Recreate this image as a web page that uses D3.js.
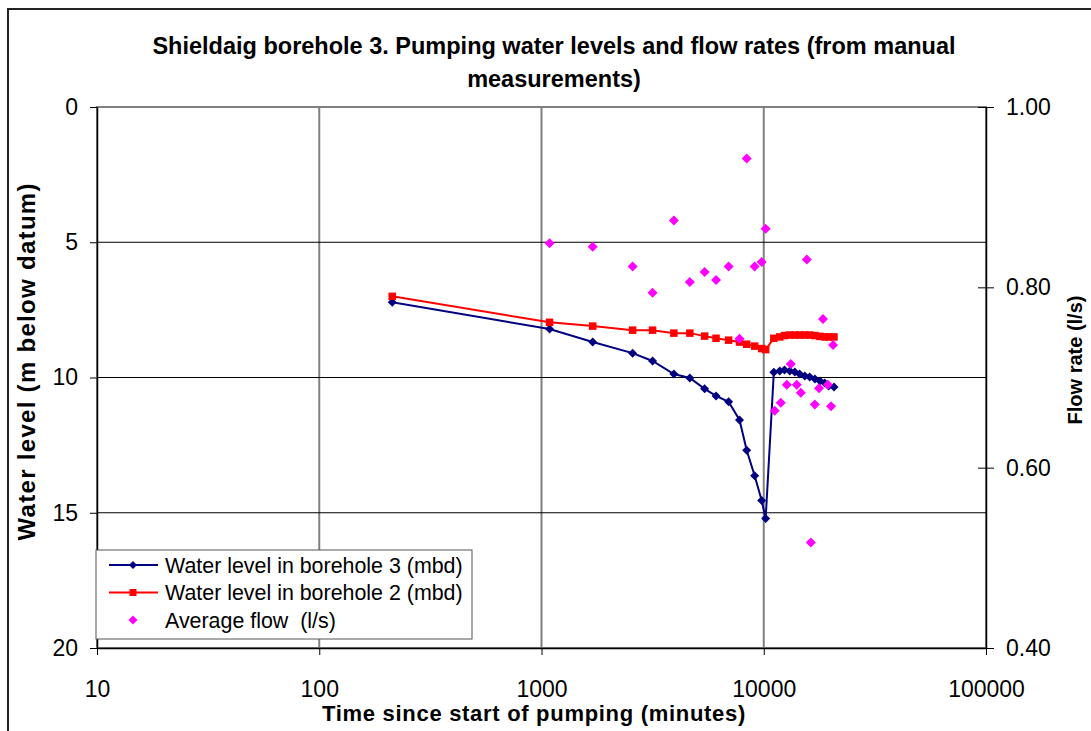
<!DOCTYPE html>
<html>
<head>
<meta charset="utf-8">
<script src="https://cdn.jsdelivr.net/npm/d3@7"></script>
<style>
  body { margin: 0; background: #ffffff; }
  svg text { font-family: 'Liberation Sans', Arial, sans-serif; fill: #000; }
</style>
</head>
<body>
<div id="chart-container"></div>
<script>
const chartWidth = 1091;
const chartHeight = 731;

const titleLines = [
  'Shieldaig borehole 3. Pumping water levels and flow rates (from manual',
  'measurements)'
];

// Time since start of pumping (minutes), shared by both water level series
const levelTimes = [213, 1087, 1700, 2570, 3160, 3940, 4650, 5420, 6100, 6950,
  7780, 8380, 9100, 9790, 10200, 11100, 11800, 12400, 13100, 13800, 14500,
  15300, 16100, 17000, 17900, 18800, 19600, 20700];

// Water level in borehole 3 (m below datum)
const bh3Levels = [7.22, 8.21, 8.69, 9.10, 9.39, 9.87, 10.02, 10.42, 10.68, 10.9,
  11.57, 12.69, 13.63, 14.55, 15.21, 9.81, 9.76, 9.72, 9.76, 9.8, 9.87,
  9.94, 9.98, 10.06, 10.13, 10.2, 10.31, 10.35];

// Water level in borehole 2 (m below datum)
const bh2Levels = [7.0, 7.96, 8.1, 8.25, 8.25, 8.36, 8.36, 8.47, 8.55, 8.62,
  8.69, 8.77, 8.84, 8.93, 8.97, 8.55, 8.5, 8.45, 8.43, 8.43, 8.43,
  8.43, 8.43, 8.45, 8.48, 8.5, 8.5, 8.5];

// Average flow (l/s)
const flowTimes = [1087, 1700, 2570, 3160, 3940, 4650, 5420, 6100, 6950, 7780,
  8380, 9100, 9790, 10200, 11210, 11930, 12690, 13230, 14080, 14680, 15620,
  16280, 16970, 17730, 18480, 19430, 20080, 20500];
const flowRates = [0.849, 0.845, 0.823, 0.794, 0.874, 0.806, 0.817, 0.808, 0.823, 0.743,
  0.943, 0.823, 0.828, 0.865, 0.663, 0.672, 0.692, 0.715, 0.692, 0.683, 0.831,
  0.517, 0.670, 0.688, 0.765, 0.692, 0.668, 0.736];

const xTicks = [10, 100, 1000, 10000, 100000];
const levelTicks = [0, 5, 10, 15, 20];
const flowTicks = [0.4, 0.6, 0.8, 1.0];

const legendLabels = [
  'Water level in borehole 3 (mbd)',
  'Water level in borehole 2 (mbd)',
  'Average flow  (l/s)'
];

const plot = { left: 97, right: 986, top: 107, bottom: 648 };

const drawChart = () => {
  const svg = d3
    .select('#chart-container')
    .append('svg')
    .attr('width', chartWidth)
    .attr('height', chartHeight);

  // Outer chart frame (runs off the picture at right and bottom)
  svg
    .append('rect')
    .attr('x', 8)
    .attr('y', 9)
    .attr('width', 1200)
    .attr('height', 900)
    .attr('fill', 'none')
    .attr('stroke', '#222')
    .attr('stroke-width', 2);

  // Title
  svg
    .selectAll('.title')
    .data(titleLines)
    .enter()
    .append('text')
    .attr('class', 'title')
    .attr('x', 554)
    .attr('y', (d, i) => 53.5 + i * 33)
    .attr('text-anchor', 'middle')
    .style('font-size', '23.5px')
    .style('font-weight', 'bold')
    .text((d) => d);

  // Scales
  const xScale = d3.scaleLog().domain([10, 100000]).range([plot.left, plot.right]);
  const yScale = d3.scaleLinear().domain([0, 20]).range([plot.top, plot.bottom]);
  const y2Scale = d3.scaleLinear().domain([0.4, 1.0]).range([plot.bottom, plot.top]);

  // Plot area border
  svg
    .append('rect')
    .attr('x', plot.left)
    .attr('y', plot.top)
    .attr('width', plot.right - plot.left)
    .attr('height', plot.bottom - plot.top)
    .attr('fill', 'none')
    .attr('stroke', '#808080')
    .attr('stroke-width', 2);

  // Gridlines
  svg
    .selectAll('.vgrid')
    .data(xTicks.slice(1, -1))
    .enter()
    .append('line')
    .attr('x1', (d) => xScale(d))
    .attr('x2', (d) => xScale(d))
    .attr('y1', plot.top)
    .attr('y2', plot.bottom)
    .attr('stroke', '#808080')
    .attr('stroke-width', 2);

  svg
    .selectAll('.hgrid')
    .data(levelTicks.slice(1, -1))
    .enter()
    .append('line')
    .attr('x1', plot.left)
    .attr('x2', plot.right)
    .attr('y1', (d) => yScale(d))
    .attr('y2', (d) => yScale(d))
    .attr('stroke', '#000')
    .attr('stroke-width', 1);

  // Axes
  const xAxis = d3
    .axisBottom(xScale)
    .tickValues(xTicks)
    .tickFormat(d3.format('d'))
    .tickSize(7)
    .tickSizeOuter(0)
    .tickPadding(26);
  const yAxis = d3
    .axisLeft(yScale)
    .tickValues(levelTicks)
    .tickSize(7)
    .tickSizeOuter(0)
    .tickPadding(12);
  const y2Axis = d3
    .axisRight(y2Scale)
    .tickValues(flowTicks)
    .tickFormat(d3.format('.2f'))
    .tickSize(8)
    .tickSizeOuter(0)
    .tickPadding(12);

  const gx = svg
    .append('g')
    .attr('id', 'x-axis')
    .attr('transform', `translate(0,${plot.bottom})`)
    .call(xAxis);
  const gy = svg
    .append('g')
    .attr('id', 'y-axis')
    .attr('transform', `translate(${plot.left},0)`)
    .call(yAxis);
  const gy2 = svg
    .append('g')
    .attr('id', 'y2-axis')
    .attr('transform', `translate(${plot.right},0)`)
    .call(y2Axis);
  // right axis ticks cross the axis line
  gy2.selectAll('.tick').append('line').attr('x1', -8).attr('x2', 0).attr('stroke', '#000');

  [gx, gy, gy2].forEach((g) => {
    g.selectAll('.domain').attr('stroke', '#000').attr('stroke-width', 1.5);
    g.selectAll('.tick line').attr('stroke', '#000');
    g.selectAll('.tick text')
      .style('font-size', '23px')
      .style('font-family', "'Liberation Sans', Arial, sans-serif");
  });

  // Axis titles
  svg
    .append('text')
    .attr('x', 534)
    .attr('y', 721)
    .attr('text-anchor', 'middle')
    .style('font-size', '22px')
    .style('font-weight', 'bold')
    .style('letter-spacing', '0.7px')
    .text('Time since start of pumping (minutes)');

  svg
    .append('text')
    .attr('transform', 'translate(35,362) rotate(-90)')
    .attr('text-anchor', 'middle')
    .attr('textLength', 357)
    .attr('lengthAdjust', 'spacing')
    .style('font-size', '24px')
    .style('font-weight', 'bold')
    .text('Water level (m below datum)');

  svg
    .append('text')
    .attr('transform', 'translate(1082,360) rotate(-90)')
    .attr('text-anchor', 'middle')
    .style('font-size', '20px')
    .style('font-weight', 'bold')
    .text('Flow rate (l/s)');

  // Series
  const bh3 = levelTimes.map((t, i) => [t, bh3Levels[i]]);
  const bh2 = levelTimes.map((t, i) => [t, bh2Levels[i]]);
  const flow = flowTimes.map((t, i) => [t, flowRates[i]]);

  const line = d3.line().x((d) => xScale(d[0])).y((d) => yScale(d[1]));
  const diamond = (s) => `M0,${-s}L${s},0L0,${s}L${-s},0Z`;

  svg
    .append('path')
    .datum(bh3)
    .attr('d', line)
    .attr('fill', 'none')
    .attr('stroke', '#000080')
    .attr('stroke-width', 2);

  svg
    .append('path')
    .datum(bh2)
    .attr('d', line)
    .attr('fill', 'none')
    .attr('stroke', '#ff0000')
    .attr('stroke-width', 2);

  svg
    .selectAll('.bh3-point')
    .data(bh3)
    .enter()
    .append('path')
    .attr('class', 'bh3-point')
    .attr('d', diamond(4.5))
    .attr('transform', (d) => `translate(${xScale(d[0])},${yScale(d[1])})`)
    .attr('fill', '#000080');

  svg
    .selectAll('.bh2-point')
    .data(bh2)
    .enter()
    .append('rect')
    .attr('class', 'bh2-point')
    .attr('x', (d) => xScale(d[0]) - 3.75)
    .attr('y', (d) => yScale(d[1]) - 3.75)
    .attr('width', 7.5)
    .attr('height', 7.5)
    .attr('fill', '#ff0000');

  svg
    .selectAll('.flow-point')
    .data(flow)
    .enter()
    .append('path')
    .attr('class', 'flow-point')
    .attr('d', diamond(5))
    .attr('transform', (d) => `translate(${xScale(d[0])},${y2Scale(d[1])})`)
    .attr('fill', '#ff00ff');

  // Legend
  const legend = svg.append('g').attr('transform', 'translate(96,550)');
  legend
    .append('rect')
    .attr('width', 376)
    .attr('height', 89)
    .attr('fill', '#fff')
    .attr('stroke', '#555')
    .attr('stroke-width', 1);

  const legendItems = legend
    .selectAll('.legend-item')
    .data(legendLabels)
    .enter()
    .append('g')
    .attr('class', 'legend-item')
    .attr('transform', (d, i) => `translate(0,${15 + i * 27.5})`);

  legendItems
    .filter((d, i) => i < 2)
    .append('line')
    .attr('x1', 13)
    .attr('x2', 62)
    .attr('stroke', (d, i) => (i === 0 ? '#000080' : '#ff0000'))
    .attr('stroke-width', 2);

  legendItems
    .append('path')
    .attr('d', (d, i) => (i === 1 ? 'M-3.5,-3.5h7v7h-7Z' : diamond(i === 0 ? 4 : 4.5)))
    .attr('transform', 'translate(37,0)')
    .attr('fill', (d, i) => ['#000080', '#ff0000', '#ff00ff'][i]);

  legendItems
    .append('text')
    .attr('x', 69)
    .attr('y', 7.5)
    .style('font-size', '21.4px')
    .style('white-space', 'pre')
    .text((d) => d);
};

window.addEventListener('DOMContentLoaded', () => {
  drawChart();
});
</script>
</body>
</html>
